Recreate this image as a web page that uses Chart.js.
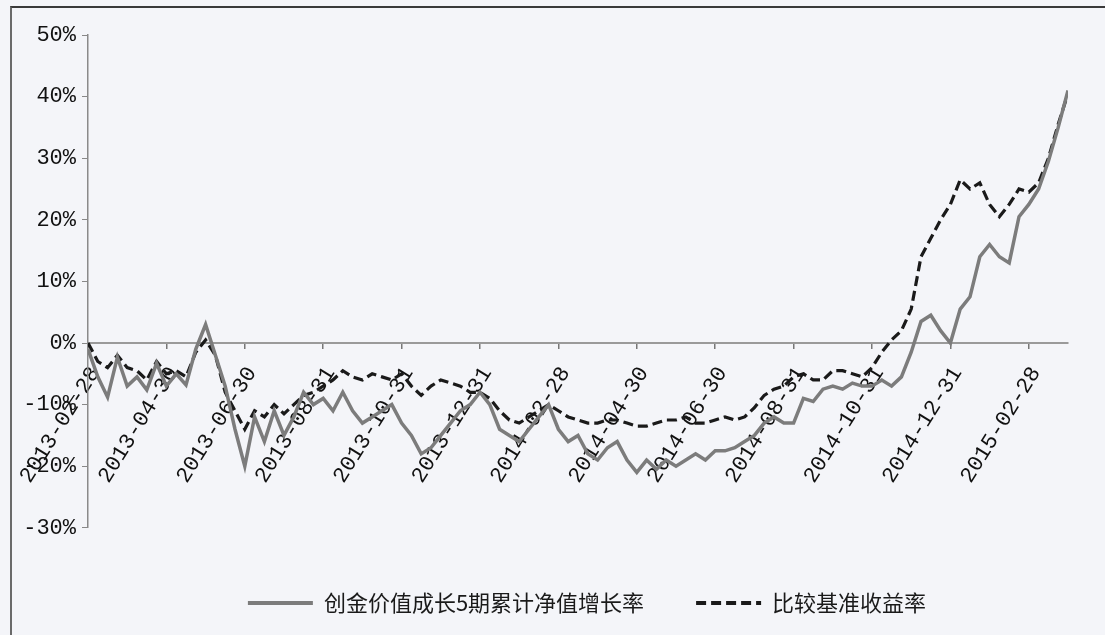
<!DOCTYPE html>
<html>
<head>
<meta charset="utf-8">
<script src="https://cdn.jsdelivr.net/npm/chart.js@4.4.0/dist/chart.umd.min.js"></script>
<style>
  html, body { margin: 0; padding: 0; background: #f4f5f9; }
  #wrap { position: relative; width: 1105px; height: 635px; overflow: hidden; }
  #frame { position: absolute; left: 10px; top: 6px; right: -10px; bottom: -10px;
           border-top: 2px solid #3a3a3a; border-left: 2px solid #6a6a6a; }
  canvas { position: absolute; left: 0; top: 0; }
</style>
</head>
<body>
<div id="wrap">
  <div id="frame"></div>
  <canvas id="chart" width="1105" height="635"></canvas>
</div>
<script>
// one label every 8 points (2 months), about 4 points per month
const dateLabels = [
  "2013-02-28", "2013-04-30", "2013-06-30", "2013-08-31", "2013-10-31",
  "2013-12-31", "2014-02-28", "2014-04-30", "2014-06-30", "2014-08-31",
  "2014-10-31", "2014-12-31", "2015-02-28"
];

// 创金价值成长5期累计净值增长率 (%)
const fundReturn = [
  -1, -5.5, -8.8, -2.3, -7, -5.5, -7.6, -3.3, -7, -5, -6.8, -1, 3, -2, -7, -14, -20,
  -12, -16, -11, -15, -12, -8, -10, -9, -11, -8, -11, -13, -12, -11, -10,
  -13, -15, -18, -17, -15, -13, -11, -10, -8, -10, -14, -15, -16, -14, -12, -10,
  -14, -16, -15, -18, -19, -17, -16, -19, -21, -19, -20.5, -19, -20, -19, -18, -19,
  -17.5, -17.5, -17, -16, -15, -13, -12, -13, -13, -9, -9.5, -7.5, -7, -7.5, -6.5, -7,
  -7, -6, -7, -5.5, -1.5, 3.5, 4.5, 2, 0, 5.5, 7.5, 14, 16, 14, 13, 20.5,
  22.5, 25, 29.5, 35, 41
];

// 比较基准收益率 (%)
const benchReturn = [
  0, -3, -4, -2, -4, -4.5, -6, -3, -5, -4.5, -5.5, -1.5, 0.5, -2, -8, -11, -14,
  -11, -12, -10, -11.5, -10, -8.5, -8, -7, -6, -4.5, -5.5, -6, -5, -5.5, -6,
  -5, -7, -8.5, -7, -6, -6.5, -7, -8, -8, -9, -11, -12.5, -13, -12, -11, -10,
  -11, -12, -12.5, -13, -13, -12.5, -12.5, -13, -13.5, -13.5, -13, -12.5, -12.5, -12, -13, -13,
  -12.5, -12, -12.5, -12, -10.5, -8.5, -7.5, -7, -5.5, -5, -6, -6, -4.5, -4.5, -5, -5.5,
  -4, -1.5, 0.5, 2, 5.5, 14, 17, 20, 22.5, 26.5, 25, 26, 22.5, 20.5, 22.5, 25,
  24.5, 26, 30, 35.5, 40.5
];

const labelFont = { family: "Liberation Mono", size: 22 };

// legend items keep the dataset's own line style
function legendLabels(chart) {
  const items = Chart.defaults.plugins.legend.labels.generateLabels(chart);
  items.forEach((item) => {
    const ds = chart.data.datasets[item.datasetIndex];
    item.lineDash = ds.borderDash || [];
    item.lineWidth = 4;
    item.strokeStyle = ds.borderColor;
  });
  return items;
}

// the legend sits a little right of centre in the original
const legendShift = {
  id: "legendShift",
  afterLayout(chart) {
    chart.legend.left += 48;
    chart.legend.right += 48;
  },
};

new Chart(document.getElementById("chart"), {
  type: "line",
  data: {
    datasets: [
      {
        label: "创金价值成长5期累计净值增长率",
        data: fundReturn.map((v, i) => ({ x: i, y: v })),
        borderColor: "#7c7c7c",
        backgroundColor: "#7c7c7c",
        borderWidth: 3.5,
        pointRadius: 0,
        tension: 0,
      },
      {
        label: "比较基准收益率",
        data: benchReturn.map((v, i) => ({ x: i, y: v })),
        borderColor: "#1a1a1a",
        backgroundColor: "#1a1a1a",
        borderWidth: 3.2,
        borderDash: [10, 5],
        pointRadius: 0,
        tension: 0,
      },
    ],
  },
  plugins: [legendShift],
  options: {
    responsive: false,
    animation: false,
    layout: { padding: { left: 10, right: 37, top: 35, bottom: 11 } },
    plugins: {
      tooltip: { enabled: false },
      legend: {
        position: "bottom",
        title: { display: true, text: "", font: { size: 1 }, padding: { top: 11, bottom: 0 } },
        labels: {
          usePointStyle: true,
          pointStyle: "line",
          pointStyleWidth: 65,
          padding: 52,
          color: "#1a1a1a",
          font: { family: "Noto Sans CJK SC", size: 22 },
          generateLabels: legendLabels,
        },
      },
    },
    scales: {
      x: {
        type: "linear",
        min: 0,
        max: 100,
        position: { y: 0 },
        grid: { drawOnChartArea: false, tickLength: 5, color: "#777", lineWidth: 1.5 },
        border: { color: "#9a9a9a", width: 2 },
        ticks: {
          stepSize: 8,
          includeBounds: false,
          autoSkip: false,
          minRotation: 58,
          maxRotation: 58,
          padding: 14,
          labelOffset: 7,
          color: "#111",
          font: labelFont,
          callback: (v) => dateLabels[v / 8] || "",
        },
      },
      y: {
        min: -30,
        max: 50,
        grid: { drawOnChartArea: false, tickLength: 6, color: "#888" },
        border: { color: "#8a8a8a", width: 1.5 },
        ticks: {
          stepSize: 10,
          padding: 6,
          color: "#111",
          font: labelFont,
          callback: (v) => v + "%",
        },
        afterFit: (scale) => { scale.width = 78; },
      },
    },
  },
});
</script>
</body>
</html>
